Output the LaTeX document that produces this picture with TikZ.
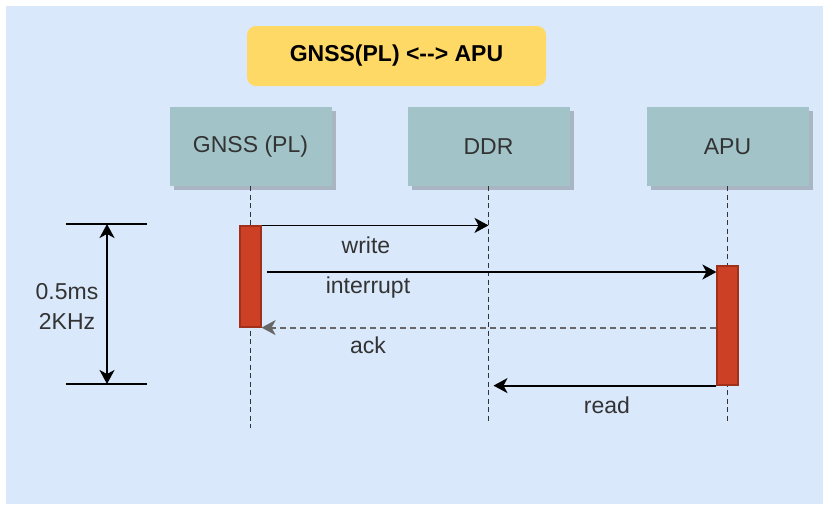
\documentclass[tikz,border=0pt]{standalone}
\usepackage{fontspec}
\setmainfont{Liberation Sans}
\usepackage{tikz}
\usetikzlibrary{positioning,arrows.meta,shadows}
\definecolor{bgblue}{HTML}{DAE8FC}
\definecolor{titleyellow}{HTML}{FFD966}
\definecolor{partteal}{HTML}{A2C4C9}
\definecolor{barred}{HTML}{CC4125}
\definecolor{barborder}{HTML}{A0301A}
\definecolor{txtgray}{HTML}{333333}
\newcommand{\lblfont}{\fontsize{23}{30}\selectfont}

\begin{document}
\begin{tikzpicture}[x=1pt, y=-1pt,
  titlebox/.style = {rectangle, rounded corners=9pt, fill=titleyellow,
                     minimum width=299pt, minimum height=60pt,
                     font=\bfseries\lblfont},
  part/.style     = {rectangle, fill=partteal, minimum width=162pt,
                     minimum height=79pt, font=\lblfont, text=txtgray,
                     drop shadow={shadow xshift=4pt, shadow yshift=-4pt,
                                  fill=black, opacity=0.22}},
  actbar/.style   = {rectangle, draw=barborder, line width=1.2pt,
                     fill=barred, minimum width=21pt, inner sep=0pt},
  life/.style     = {draw=black!80, line width=1.7pt,
                     dash pattern=on 5pt off 3.5pt},
  lbl/.style      = {font=\lblfont, text=txtgray, anchor=base, inner sep=0pt},
  msg/.style      = {-{Stealth[length=14pt,width=15pt,inset=4pt]}, line width=1.8pt},
  rmsg/.style     = {msg, draw=black!60, dash pattern=on 6pt off 4pt},
  spantick/.style = {line width=1.8pt},
  spanarr/.style  = {{Stealth[length=14pt,width=15pt,inset=4pt]}-{Stealth[length=14pt,width=15pt,inset=4pt]},
                     line width=1.8pt},
]
\useasboundingbox (0,0) rectangle (823,504);
\fill[white]  (0,0) rectangle (823,504);
\fill[bgblue] (6,6) rectangle (823,504);
% title and participants
\node[titlebox] (title) at (396.5, 56)   {GNSS(PL) <-{}-> APU};
\node[part]     (gnss)  at (250.5, 146.5) {GNSS (PL)};
\node[part]     (ddr)   at (488.5, 146.5) {DDR};
\node[part]     (apu)   at (727.5, 146.5) {APU};
% lifelines
\coordinate (gnssend) at (250.5, 428);
\coordinate (ddrend)  at (488.5, 422);
\coordinate (apuend)  at (727.5, 422);
\draw[life] (gnss.south) -- (gnssend);
\draw[life] (ddr.south)  -- (ddrend);
\draw[life] (apu.south)  -- (apuend);
% activation bars
\node[actbar, minimum height=101pt] (gnssbar) at (250.5, 276.5) {};
\node[actbar, minimum height=119pt] (apubar)  at (727.5, 325.5) {};
% messages
\coordinate (intstart) at (267, 272);
\draw[msg]  (gnssbar.north east) -- (gnssbar.north east -| ddr);
\draw[msg]  (intstart) -- (intstart -| apubar.west);
\draw[rmsg] (apubar.west |- gnssbar.south) -- (gnssbar.south east);
\draw[msg, shorten >=5pt] (apubar.south west) -- (apubar.south west -| ddr);
\node[lbl] (wlbl)   at (366, 253) {write};
\node[lbl] (ilbl)   at (368, 293) {interrupt};
\node[lbl] (albl)   at (368, 353) {ack};
\node[lbl] (rlbl)   at (607, 413) {read};
% period marker
\coordinate (stopl) at (66, 224);
\coordinate (stopr) at (147, 224);
\coordinate (sbotl) at (66, 384);
\coordinate (sbotr) at (147, 384);
\coordinate (stopm) at (107, 224);
\coordinate (sbotm) at (107, 384);
\draw[spantick] (stopl) -- (stopr);
\draw[spantick] (sbotl) -- (sbotr);
\draw[spanarr]  (stopm) -- (sbotm);
\node[lbl, anchor=center, align=center] (period) at (67, 306) {0.5ms\\2KHz};
\end{tikzpicture}
\end{document}
